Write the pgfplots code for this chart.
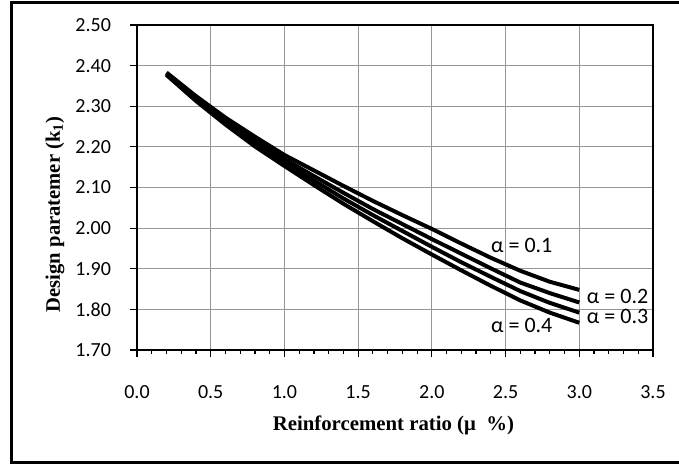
\documentclass[border=0pt]{standalone}
\usepackage{fontspec}
\setmainfont{Carlito}
\newfontfamily\timesfont{Liberation Serif}
\usepackage{pgfplots}
\pgfplotsset{compat=1.18}
\definecolor{gridgray}{RGB}{150,150,150}

\begin{document}
\begin{tikzpicture}[curve/.style={black, line width=2pt, line join=round}]
\begin{axis}[
  at={(0,0)}, anchor=south west,
  scale only axis,
  width=258pt, height=162.5pt,
  xmin=0, xmax=3.5, ymin=1.7, ymax=2.5,
  xtick={0,0.5,1,1.5,2,2.5,3,3.5}, ytick={1.7,1.8,1.9,2.0,2.1,2.2,2.3,2.4,2.5},
  minor x tick num=4,
  xticklabel style={/pgf/number format/fixed, /pgf/number format/fixed zerofill, /pgf/number format/precision=1, yshift=-10pt, text height=7pt, text depth=0pt},
  yticklabel style={/pgf/number format/fixed, /pgf/number format/fixed zerofill, /pgf/number format/precision=2, xshift=-6pt},
  /pgf/number format/assume math mode=true,
  tick label style={font=\fontsize{10}{12}\selectfont},
  tick align=outside,
  major tick length=3.5pt, minor tick length=2pt,
  tick style={black, line width=0.6pt},
  xtick pos=bottom, ytick pos=left,
  grid=major,
  major grid style={draw=gridgray, line width=0.6pt},
  axis line style={line width=0.8pt},
  xlabel={\timesfont\bfseries Reinforcement ratio (μ\ \ \%)},
  ylabel={\timesfont\bfseries Design paratemer (k\textsubscript{1})},
  xlabel style={at={(axis description cs:0.497,-0.231)}, anchor=center, font=\fontsize{10.4}{12}\selectfont},
  ylabel style={at={(axis description cs:-0.159,0.418)}, anchor=center, rotate=0, font=\fontsize{10.3}{12}\selectfont},
]
% alpha = 0.1
\addplot[curve] coordinates {(0.2,2.383) (0.4,2.325) (0.6,2.272) (0.8,2.225) (1.0,2.180) (1.2,2.142) (1.4,2.104) (1.6,2.067) (1.8,2.032) (2.0,1.998) (2.2,1.962) (2.4,1.927) (2.6,1.895) (2.8,1.868) (3.0,1.848)};
% alpha = 0.2
\addplot[curve] coordinates {(0.2,2.381) (0.4,2.321) (0.6,2.265) (0.8,2.216) (1.0,2.170) (1.2,2.128) (1.4,2.087) (1.6,2.047) (1.8,2.010) (2.0,1.973) (2.2,1.937) (2.4,1.901) (2.6,1.866) (2.8,1.840) (3.0,1.817)};
% alpha = 0.3
\addplot[curve] coordinates {(0.2,2.379) (0.4,2.317) (0.6,2.260) (0.8,2.208) (1.0,2.162) (1.2,2.117) (1.4,2.073) (1.6,2.032) (1.8,1.993) (2.0,1.954) (2.2,1.916) (2.4,1.880) (2.6,1.845) (2.8,1.816) (3.0,1.792)};
% alpha = 0.4
\addplot[curve] coordinates {(0.2,2.377) (0.4,2.313) (0.6,2.255) (0.8,2.201) (1.0,2.153) (1.2,2.106) (1.4,2.060) (1.6,2.017) (1.8,1.975) (2.0,1.935) (2.2,1.896) (2.4,1.858) (2.6,1.822) (2.8,1.792) (3.0,1.767)};

\node[font=\fontsize{11}{13}\selectfont] at (axis cs:2.61,1.958) {α = 0.1};
\node[font=\fontsize{11}{13}\selectfont] at (axis cs:3.26,1.833) {α = 0.2};
\node[font=\fontsize{11}{13}\selectfont] at (axis cs:3.26,1.782) {α = 0.3};
\node[font=\fontsize{11}{13}\selectfont] at (axis cs:2.61,1.761) {α = 0.4};
\end{axis}
% outer chart frame (open on the right, as cropped)
\draw[line width=1.5pt] (271pt,173.75pt) -- (-62.75pt,173.75pt) -- (-62.75pt,-56.2pt) -- (271pt,-56.2pt);
\pgfresetboundingbox
\path (-68.5pt,-57.5pt) rectangle (271pt,175pt);
\end{tikzpicture}
\end{document}
